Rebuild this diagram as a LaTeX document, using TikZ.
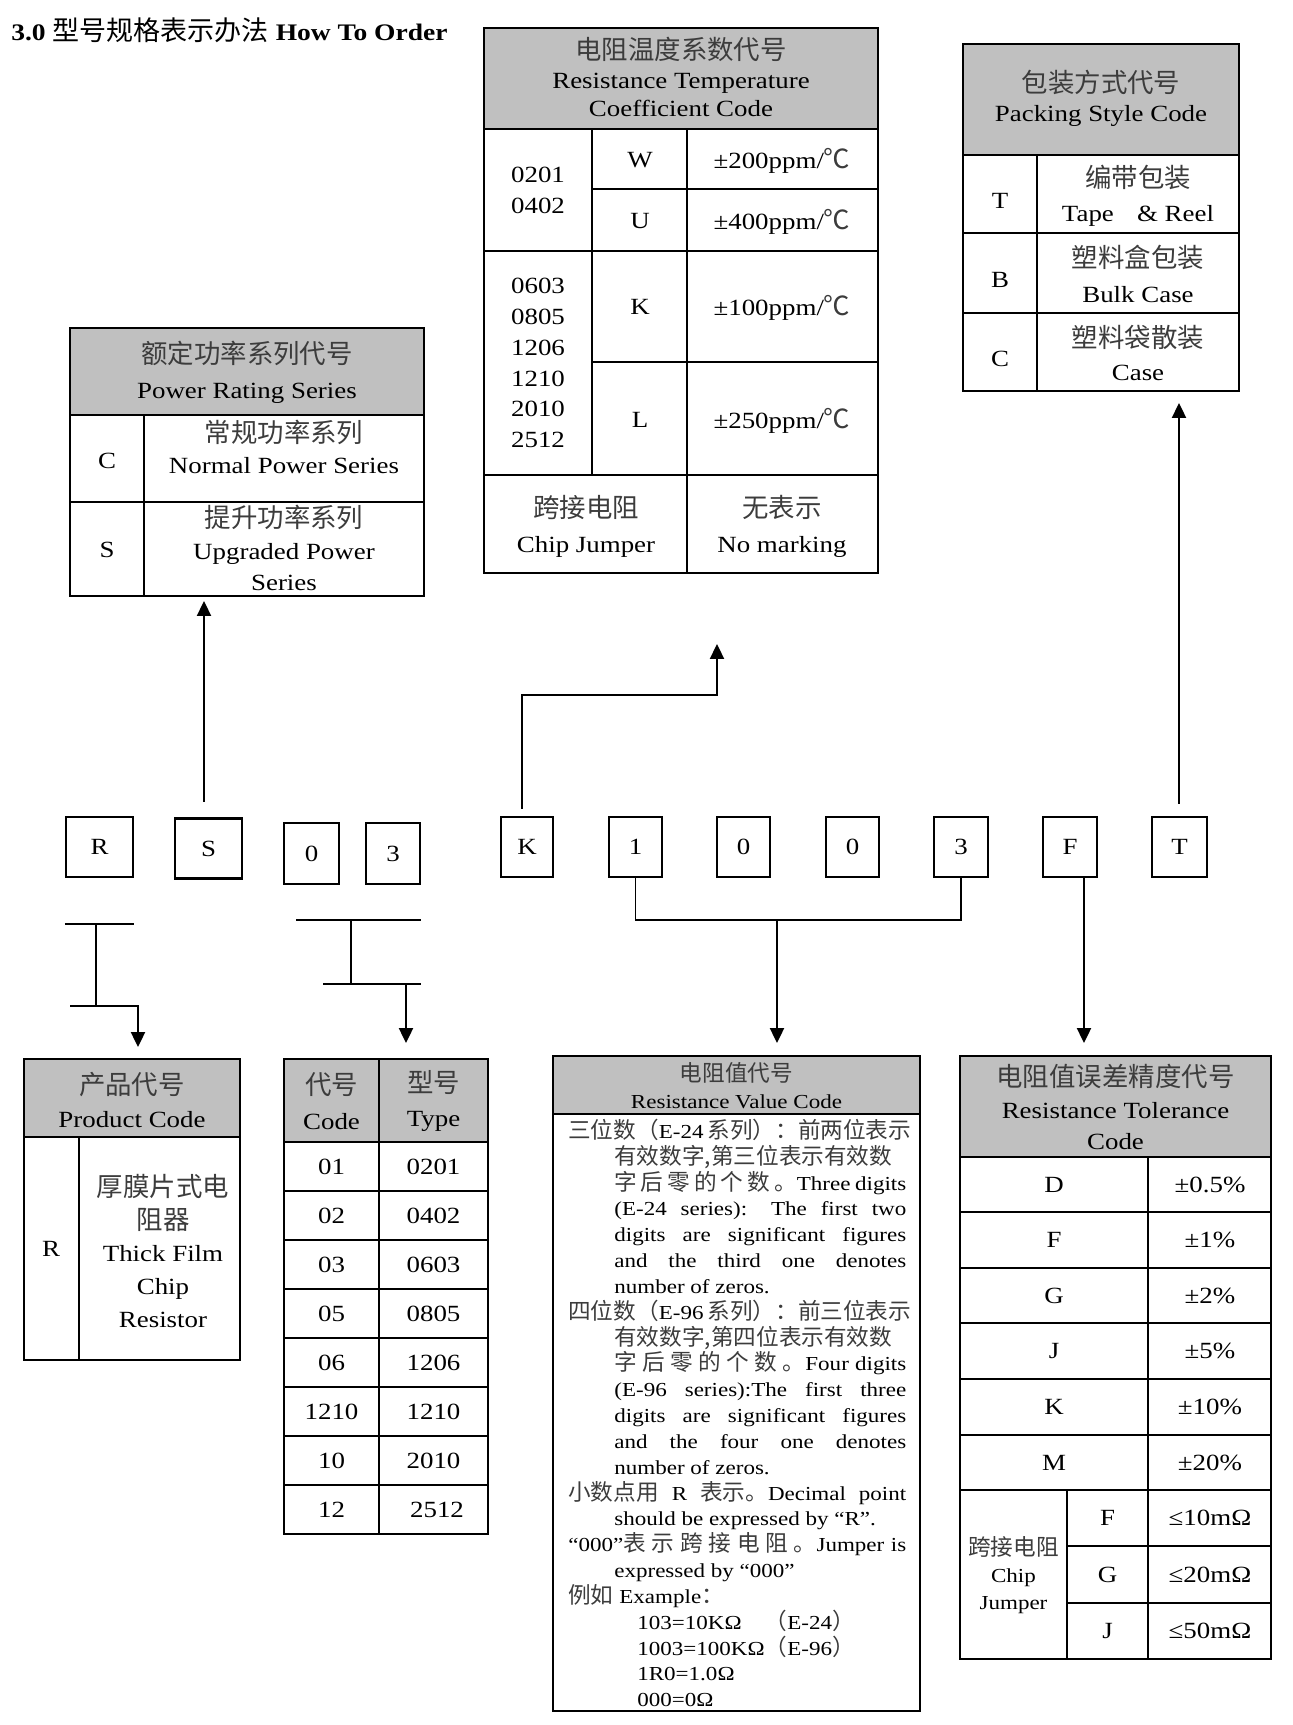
\documentclass[tikz,border=0pt]{standalone}
\usepackage{fontspec}
\setmainfont{Liberation Serif}[FakeStretch=1.16]
\newfontfamily\cjk{Noto Sans CJK SC}[Scale=1.14]
\usetikzlibrary{arrows.meta,calc}
\definecolor{hdgray}{RGB}{192,192,192}
\definecolor{cjkgray}{RGB}{60,60,60}
\newcommand\zh[1]{{\cjk\color{cjkgray}#1}}
\newcommand\tabfont[1]{\fontsize{13.2}{#1}\selectfont}
\newcommand\valfont{\fontsize{11.3}{14.7}\selectfont}
\newcommand\jfull[1]{\makebox[6.76cm][s]{#1}}
\newcommand\jcont[1]{\hspace*{0.92cm}\makebox[5.84cm][s]{#1}}
\newcommand\pcont[1]{\hspace*{0.92cm}#1}
\newcommand\pex[1]{\hspace*{1.38cm}#1}
\tikzset{
  >={Triangle[length=8.5pt,width=8pt]},
  bx/.style={draw,line width=1.2pt,inner sep=0pt,minimum height=1.2cm,font=\tabfont{16}},
  tx/.style={align=center,inner sep=0pt,font=\tabfont{#1}},
  tx/.default=17.6,
  sm/.style={align=center,inner sep=0pt,font=\fontsize{11.3}{#1}\selectfont},
  sm/.default=15.3,
  hd/.style={fill=hdgray},
  ln/.style={line width=0.9pt},
  cn/.style={line width=1.1pt},
}

\begin{document}
\begin{tikzpicture}[x=0.02cm,y=-0.02cm]
\useasboundingbox (0,0) rectangle (1293,1725);
\node[anchor=west,inner sep=0pt,font=\fontsize{13.5}{16}\bfseries] (ttl) at (11,30) {3.0 {\cjk\mdseries 型号规格表示办法} How To Order};

% power rating series
\draw[ln,hd] (70,328) rectangle (424,415);
\draw[ln] (70,415) rectangle (424,596) (70,502) -- (424,502) (144,415) -- (144,596);
\node[tx=19.8] (pwH) at (247,372) {\zh{额定功率系列代号}\\Power Rating Series};
\node[tx] (pwC) at (107,461) {C}; \node[tx=18.1] (pwCt) at (284,447) {\zh{常规功率系列}\\Normal Power Series};
\node[tx] (pwS) at (107,550) {S}; \node[tx=17.8] (pwSt) at (284,548) {\zh{提升功率系列}\\Upgraded Power\\Series};

% temperature coefficient
\draw[ln,hd] (484,28) rectangle (878,129);
\draw[ln] (484,129) rectangle (878,573) (592,129) -- (592,475) (687,129) -- (687,573)
  (592,189) -- (878,189) (484,251) -- (878,251) (592,362) -- (878,362) (484,475) -- (878,475);
\node[tx=16.4] (rtH) at (681,77) {\zh{电阻温度系数代号}\\Resistance Temperature\\Coefficient Code};
\node[tx] (rtA) at (538,190) {0201\\0402}; \node[tx] (rtB) at (538,363) {0603\\0805\\1206\\1210\\2010\\2512};
\node[tx] (rtW) at (640,160) {W}; \node[tx] (rtWv) at (782,161) {±200ppm/\zh{℃}};
\node[tx] (rtU) at (640,221) {U}; \node[tx] (rtUv) at (782,222) {±400ppm/\zh{℃}};
\node[tx] (rtK) at (640,307) {K}; \node[tx] (rtKv) at (782,308) {±100ppm/\zh{℃}};
\node[tx] (rtL) at (640,420) {L}; \node[tx] (rtLv) at (782,421) {±250ppm/\zh{℃}};
\node[tx=19.8] (rtJ) at (586,526) {\zh{跨接电阻}\\Chip Jumper}; \node[tx=19.8] (rtN) at (782,526) {\zh{无表示}\\No marking};

% packing style
\draw[ln,hd] (963,44) rectangle (1239,155);
\draw[ln] (963,155) rectangle (1239,391) (1037,155) -- (1037,391) (963,233) -- (1239,233) (963,313) -- (1239,313);
\node[tx=16.4] (pkH) at (1101,98) {\zh{包装方式代号}\\Packing Style Code};
\node[tx] (pkT) at (1000,201) {T}; \node[tx=19.3] (pkTt) at (1138,196) {\zh{编带包装}\\Tape\quad\& Reel};
\node[tx] (pkB) at (1000,280) {B}; \node[tx=19.8] (pkBt) at (1138,274) {\zh{塑料盒包装}\\Bulk Case};
\node[tx] (pkC) at (1000,359) {C}; \node[tx=19.3] (pkCt) at (1138,353) {\zh{塑料袋散装}\\Case};

% code boxes
\node[bx,minimum width=1.34cm] (bR) at (99.5,847) {R}; \node[bx,minimum width=1.34cm] (bS) at (208.5,848.5) {S};
\node[bx,minimum width=1.1cm,minimum height=1.22cm] (b0) at (311.5,853.5) {0}; \node[bx,minimum width=1.08cm,minimum height=1.22cm] (b3) at (393,853.5) {3};
\node[bx,minimum width=1.04cm] (bK) at (527,847) {K}; \node[bx,minimum width=1.06cm] (bI) at (635.5,847) {1};
\node[bx,minimum width=1.06cm] (bZa) at (743.5,847) {0}; \node[bx,minimum width=1.06cm] (bZb) at (852.5,847) {0};
\node[bx,minimum width=1.08cm] (bT3) at (961,847) {3}; \node[bx,minimum width=1.08cm] (bF) at (1070,847) {F};
\node[bx,minimum width=1.1cm] (bT) at (1179.5,847) {T};

% connectors
\coordinate (pwIn) at (204,601); \coordinate (kB) at (522,695); \coordinate (rtIn) at (717,644); \coordinate (pkIn) at (1179,403);
\draw[cn,->,shorten <=0.31cm] (bS.north -| pwIn) -- (pwIn);
\draw[cn,->,shorten <=0.14cm] (bK.north -| kB) -- (kB) -| (rtIn);
\draw[cn,->,shorten <=0.24cm] (bT.north -| pkIn) -- (pkIn);
\coordinate (rA) at (96,924); \coordinate (rB) at (96,1006); \coordinate (rC) at (70,1006); \coordinate (pdIn) at (138,1047);
\draw[cn] (bR.west |- rA) -- (bR.east |- rA); \draw[cn] (rA) -- (rB); \draw[cn,->] (rC) -| (pdIn);
\coordinate (tL) at (296,920); \coordinate (tA) at (351,920); \coordinate (tB) at (351,984); \coordinate (tC) at (323,984); \coordinate (ctIn) at (406,1043);
\draw[cn] (tL) -- (b3.east |- tL); \draw[cn] (tA) -- (tB); \draw[cn] (tC) -- (b3.east |- tC); \draw[cn,->] (tC -| ctIn) -- (ctIn);
\coordinate (vA) at (777,920); \coordinate (vIn) at (777,1043); \coordinate (tlIn) at (1084,1043);
\draw[cn] (bI.south) |- (vA) -| (bT3.south); \draw[cn,->] (vA) -- (vIn);
\draw[cn,->] (bF.south -| tlIn) -- (tlIn);

% product code
\draw[ln,hd] (24,1059) rectangle (240,1137);
\draw[ln] (24,1137) rectangle (240,1360) (79,1137) -- (79,1360);
\node[tx=19.3] (pdH) at (132,1100) {\zh{产品代号}\\Product Code};
\node[tx] (pdR) at (51,1249) {R}; \node[tx=18.7] (pdT) at (163,1251) {\zh{厚膜片式电}\\\zh{阻器}\\Thick Film\\Chip\\Resistor};

% code / type
\draw[ln,hd] (284,1059) rectangle (488,1142);
\draw[ln] (379,1059) -- (379,1534) (284,1142) rectangle (488,1534)
  (284,1191) -- (488,1191) (284,1240) -- (488,1240) (284,1289) -- (488,1289) (284,1338) -- (488,1338)
  (284,1387) -- (488,1387) (284,1436) -- (488,1436) (284,1485) -- (488,1485);
\node[tx=19.8] (ctC) at (331.5,1101) {\zh{代号}\\Code}; \node[tx=19.8] (ctT) at (433.5,1101) {\zh{型号}\\Type};
\node[tx] (cc1) at (331.5,1167) {01}; \node[tx] (ct1) at (433.5,1167) {0201};
\node[tx] (cc2) at (331.5,1216) {02}; \node[tx] (ct2) at (433.5,1216) {0402};
\node[tx] (cc3) at (331.5,1265) {03}; \node[tx] (ct3) at (433.5,1265) {0603};
\node[tx] (cc4) at (331.5,1314) {05}; \node[tx] (ct4) at (433.5,1314) {0805};
\node[tx] (cc5) at (331.5,1363) {06}; \node[tx] (ct5) at (433.5,1363) {1206};
\node[tx] (cc6) at (331.5,1412) {1210}; \node[tx] (ct6) at (433.5,1412) {1210};
\node[tx] (cc7) at (331.5,1461) {10}; \node[tx] (ct7) at (433.5,1461) {2010};
\node[tx] (cc8) at (331.5,1510) {12}; \node[tx] (ct8) at (437,1510) {2512};

% resistance value
\draw[ln,hd] (553,1056) rectangle (920,1114);
\draw[ln] (553,1114) rectangle (920,1711);
\node[sm] (vlH) at (736.5,1086) {\zh{电阻值代号}\\Resistance Value Code};
\node[anchor=west,align=left,inner sep=0pt,font=\valfont] (vlB) at (568,1413) {%
\jfull{\zh{三位数（}E-24 \zh{系列）：前两位表示}}\\
\pcont{\zh{有效数字,第三位表示有效数}}\\
\jcont{\zh{字 后 零 的 个 数 。}Three digits}\\
\jcont{(E-24 series): The first two}\\
\jcont{digits are significant figures}\\
\jcont{and the third one denotes}\\
\pcont{number of zeros.}\\
\jfull{\zh{四位数（}E-96 \zh{系列）：前三位表示}}\\
\pcont{\zh{有效数字,第四位表示有效数}}\\
\jcont{\zh{字 后 零 的 个 数 。}Four digits}\\
\jcont{(E-96 series):The first three}\\
\jcont{digits are significant figures}\\
\jcont{and the four one denotes}\\
\pcont{number of zeros.}\\
\jfull{\zh{小数点用} R \zh{表示。}Decimal point}\\
\pcont{should be expressed by “R”.}\\
\jfull{“000”\zh{表 示 跨 接 电 阻 。}Jumper is}\\
\pcont{expressed by “000”}\\
\zh{例如} Example\zh{：}\\
\pex{\rlap{103=10KΩ}\phantom{1003=100KΩ}\zh{（}E-24\zh{）}}\\
\pex{1003=100KΩ\zh{（}E-96\zh{）}}\\
\pex{1R0=1.0Ω}\\
\pex{000=0Ω}};

% tolerance
\draw[ln,hd] (960,1056) rectangle (1271,1157);
\draw[ln] (960,1157) rectangle (1271,1659) (1148,1157) -- (1148,1659) (1067,1490) -- (1067,1659)
  (960,1212) -- (1271,1212) (960,1268) -- (1271,1268) (960,1323) -- (1271,1323) (960,1379) -- (1271,1379)
  (960,1435) -- (1271,1435) (960,1490) -- (1271,1490) (1067,1546) -- (1271,1546) (1067,1603) -- (1271,1603);
\node[tx=18.1] (tlH) at (1115.5,1107) {\zh{电阻值误差精度代号}\\Resistance Tolerance\\Code};
\node[tx] (tlD) at (1054,1185) {D}; \node[tx] (tlDv) at (1210,1185) {±0.5\%};
\node[tx] (tlF) at (1054,1240) {F}; \node[tx] (tlFv) at (1210,1240) {±1\%};
\node[tx] (tlG) at (1054,1296) {G}; \node[tx] (tlGv) at (1210,1296) {±2\%};
\node[tx] (tlJ) at (1054,1351) {J}; \node[tx] (tlJv) at (1210,1351) {±5\%};
\node[tx] (tlK) at (1054,1407) {K}; \node[tx] (tlKv) at (1210,1407) {±10\%};
\node[tx] (tlM) at (1054,1463) {M}; \node[tx] (tlMv) at (1210,1463) {±20\%};
\node[sm] (tlX) at (1013.5,1575) {\zh{跨接电阻}\\Chip\\Jumper};
\node[tx] (tlXF) at (1107.5,1518) {F}; \node[tx] (tlXFv) at (1210,1518) {≤10mΩ};
\node[tx] (tlXG) at (1107.5,1575) {G}; \node[tx] (tlXGv) at (1210,1575) {≤20mΩ};
\node[tx] (tlXJ) at (1107.5,1631) {J}; \node[tx] (tlXJv) at (1210,1631) {≤50mΩ};
\end{tikzpicture}
\end{document}
